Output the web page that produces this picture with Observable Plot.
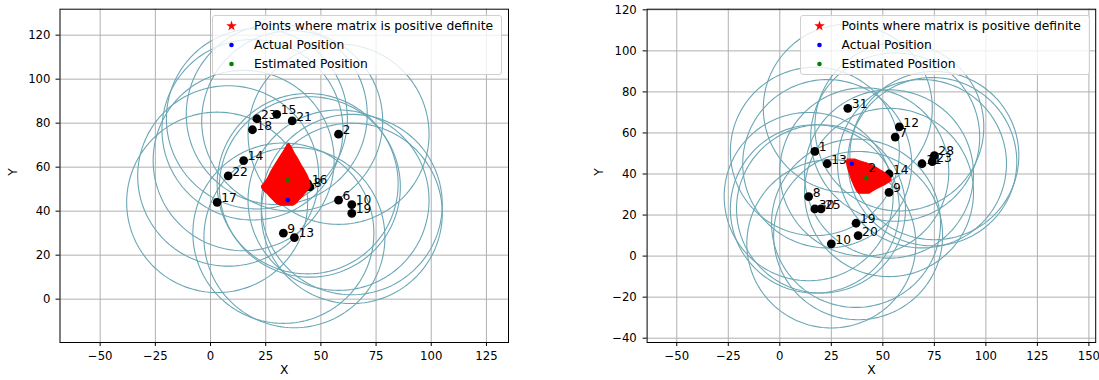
<!DOCTYPE html>
<html>
<head>
<meta charset="utf-8">
<script src="https://cdn.jsdelivr.net/npm/d3@7"></script>
<script src="https://cdn.jsdelivr.net/npm/@observablehq/plot@0.6"></script>
<style>
  html, body { margin: 0; padding: 0; background: #ffffff; }
  #wrap { position: relative; width: 1099px; height: 380px; overflow: hidden; font-family: "DejaVu Sans", sans-serif; }
  .panel { position: absolute; top: 0; }
  .panel svg { overflow: visible; }
  .legend { position: absolute; box-sizing: border-box; background: rgba(255,255,255,0.8); border: 1px solid #d0d0d0; border-radius: 3px; font-size: 12.3px; color: #000; }
  .legend .row { position: absolute; left: 0; height: 16px; line-height: 16px; white-space: nowrap; }
  .legend .txt { position: absolute; left: 41px; top: 0; }
  .legend svg { position: absolute; left: 10px; top: -1px; }
</style>
</head>
<body>
<div id="wrap"></div>
<script>
// ---------------- Left panel data ----------------
const leftIds = ["23", "15", "21", "18", "2", "14", "22", "17", "16", "8", "6", "10", "19", "9", "13"];
const leftAnchorX = [21, 30, 37, 19, 58, 15, 8, 3, 44, 45, 58, 64, 64, 33, 38];
const leftAnchorY = [82, 84, 81, 77, 75, 63, 56, 44, 52.5, 51, 45, 43, 39, 30, 28];
const leftRadius = 41;
// region where matrix is positive definite (rows: y, left x, right x)
const leftRegionY  = [42.5, 43.5, 45.0, 46.5, 48.0, 49.5, 51.0, 52.5, 54.9, 57.9, 60.9, 64.0, 67.0, 69.0, 70.5];
const leftRegionX1 = [32.0, 30.0, 28.5, 27.0, 25.7, 24.0, 23.3, 24.5, 26.1, 27.6, 29.4, 31.3, 33.2, 34.4, 35.3];
const leftRegionX2 = [37.5, 39.0, 40.3, 41.8, 43.0, 44.3, 45.3, 45.1, 44.5, 43.0, 41.2, 39.5, 37.7, 36.7, 35.8];
const leftActual = [35, 45];
const leftEstimated = [35, 54];
const leftXTicks = [-50, -25, 0, 25, 50, 75, 100, 125];
const leftYTicks = [0, 20, 40, 60, 80, 100, 120];

// ---------------- Right panel data ----------------
const rightIds = ["31", "12", "7", "1", "13", "2", "14", "9", "8", "30", "25", "19", "20", "10", "11", "23", "28"];
const rightAnchorX = [33, 58, 56, 17, 23, 41, 53, 53, 14, 17, 20, 37, 38, 25, 69, 74, 75];
const rightAnchorY = [72, 63, 58, 51, 45, 41, 40, 31, 29, 23, 23, 16, 10, 6, 45, 46, 49];
const rightRadius = 41;
const rightRegionY  = [30.4, 32.0, 33.6, 35.2, 36.8, 38.5, 40.1, 41.7, 43.3, 45.0, 45.8, 47.0];
const rightRegionX1 = [38.5, 37.3, 36.5, 35.8, 35.1, 34.5, 34.0, 33.5, 33.0, 32.7, 32.7, 32.9];
const rightRegionX2 = [43.5, 46.0, 49.0, 52.2, 54.0, 53.3, 51.5, 49.0, 46.5, 42.8, 40.0, 36.5];
const rightActual = [35, 45];
const rightEstimated = [42, 38];
const rightXTicks = [-50, -25, 0, 25, 50, 75, 100, 125, 150];
const rightYTicks = [-40, -20, 0, 20, 40, 60, 80, 100, 120];

// ---------------- Legend ----------------
const legendLabels = ["Points where matrix is positive definite", "Actual Position", "Estimated Position"];
const legendColors = ["red", "blue", "green"];

const circleColor = "#6aa6b5";

function makePanel(cfg) {
  const anchors = cfg.ids.map((id, i) => ({id, x: cfg.ax[i], y: cfg.ay[i]}));
  const ring = [];
  anchors.forEach(a => {
    for (let k = 0; k <= 180; k++) {
      const t = 2 * Math.PI * k / 180;
      ring.push({id: a.id, x: a.x + cfg.radius * Math.cos(t), y: a.y + cfg.radius * Math.sin(t)});
    }
  });
  const region = cfg.regY.map((y, i) => ({y, x1: cfg.regX1[i], x2: cfg.regX2[i]}));
  const actual = [{x: cfg.actual[0], y: cfg.actual[1]}];
  const est = [{x: cfg.est[0], y: cfg.est[1]}];
  return Plot.plot({
    width: cfg.width,
    height: 380,
    marginLeft: cfg.ml,
    marginRight: cfg.mr,
    marginTop: 8.7,
    marginBottom: 38,
    x: {domain: cfg.xDomain},
    y: {domain: cfg.yDomain},
    style: {fontFamily: "DejaVu Sans, sans-serif", fontSize: "11.7px", color: "#000", background: "transparent", overflow: "visible"},
    marks: [
      Plot.gridX(cfg.xTicks, {stroke: "#b0b0b0", strokeOpacity: 1, strokeWidth: 1}),
      Plot.gridY(cfg.yTicks, {stroke: "#b0b0b0", strokeOpacity: 1, strokeWidth: 1}),
      Plot.line(ring, {x: "x", y: "y", z: "id", stroke: circleColor, strokeWidth: 1.1, clip: true}),
      Plot.dot(anchors, {x: "x", y: "y", r: 4.4, fill: "black", stroke: "none"}),
      Plot.areaX(region, {y: "y", x1: "x1", x2: "x2", fill: "red", stroke: "red", strokeWidth: 1.2, curve: "catmull-rom"}),
      Plot.text(anchors, {x: "x", y: "y", text: "id", textAnchor: "start", dx: 4, dy: -4, fontSize: 12.3, fill: "#000"}),
      Plot.dot(actual, {x: "x", y: "y", r: 2.3, fill: "blue", stroke: "none"}),
      Plot.dot(est, {x: "x", y: "y", r: 2.3, fill: "green", stroke: "none"}),
      Plot.frame({stroke: "black", strokeWidth: 1}),
      Plot.axisX(cfg.xTicks, {tickSize: 4, tickPadding: 5, label: null, fontSize: 11.7}),
      Plot.axisY(cfg.yTicks, {tickSize: 4, tickPadding: cfg.yPad, label: null, fontSize: 11.7}),
      Plot.text(["X"], {frameAnchor: "bottom", dy: 31, fontSize: 12.3}),
      Plot.text(["Y"], {frameAnchor: "left", dx: cfg.yLabelDx, rotate: -90, fontSize: 12.3})
    ]
  });
}

function makeLegend(left, top) {
  const box = document.createElement("div");
  box.className = "legend";
  box.style.left = left + "px";
  box.style.top = top + "px";
  box.style.width = "290px";
  box.style.height = "60px";
  const rowTops = [2, 21, 39.7];
  legendLabels.forEach((lab, i) => {
    const row = document.createElement("div");
    row.className = "row";
    row.style.top = rowTops[i] + "px";
    const svg = d3.create("svg").attr("width", 18).attr("height", 18);
    const g = svg.append("g").attr("transform", "translate(8.5,9)");
    if (i === 0) {
      g.append("path").attr("d", d3.symbol(d3.symbolStar, 34)()).attr("fill", legendColors[i]);
    } else {
      g.append("circle").attr("r", 2.3).attr("fill", legendColors[i]);
    }
    row.appendChild(svg.node());
    const t = document.createElement("span");
    t.className = "txt";
    t.textContent = lab;
    row.appendChild(t);
    box.appendChild(row);
  });
  return box;
}

const wrap = document.getElementById("wrap");

const leftDiv = document.createElement("div");
leftDiv.className = "panel";
leftDiv.style.left = "0px";
leftDiv.appendChild(makePanel({
  width: 540, ml: 59.5, mr: 32,
  ids: leftIds, ax: leftAnchorX, ay: leftAnchorY, radius: leftRadius,
  regY: leftRegionY, regX1: leftRegionX1, regX2: leftRegionX2,
  actual: leftActual, est: leftEstimated,
  xDomain: [-68.2, 135], yDomain: [-19.7, 131.8],
  xTicks: leftXTicks, yTicks: leftYTicks, yPad: 5.5, yLabelDx: -47
}));
wrap.appendChild(leftDiv);

const rightDiv = document.createElement("div");
rightDiv.className = "panel";
rightDiv.style.left = "560px";
rightDiv.appendChild(makePanel({
  width: 539, ml: 86.6, mr: 3.8,
  ids: rightIds, ax: rightAnchorX, ay: rightAnchorY, radius: rightRadius,
  regY: rightRegionY, regX1: rightRegionX1, regX2: rightRegionX2,
  actual: rightActual, est: rightEstimated,
  xDomain: [-64.4, 153.3], yDomain: [-42.1, 120.3],
  xTicks: rightXTicks, yTicks: rightYTicks, yPad: 6.3, yLabelDx: -48
}));
wrap.appendChild(rightDiv);

wrap.appendChild(makeLegend(212, 15.3));
wrap.appendChild(makeLegend(799.6, 15.3));
</script>
</body>
</html>
